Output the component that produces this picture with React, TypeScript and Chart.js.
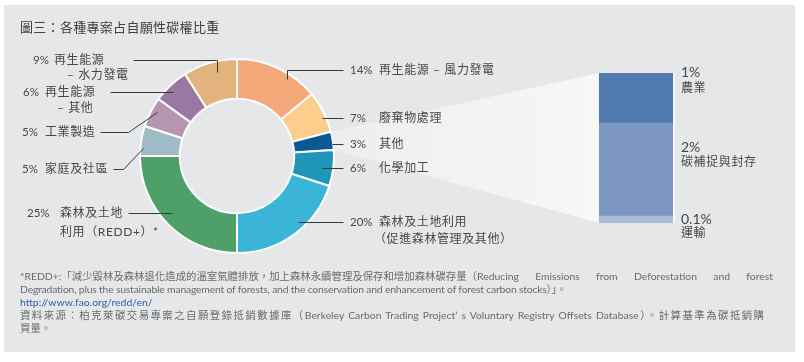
import React, { useEffect, useRef } from "react";
import { Chart, registerables } from "chart.js";

Chart.register(...registerables);

// ---------- data ----------
const titleText = "圖三：各種專案占自願性碳權比重";

const sliceNames: string[][] = [
  ["再生能源 – 風力發電"],
  ["廢棄物處理"],
  ["其他"],
  ["化學加工"],
  ["森林及土地利用", "（促進森林管理及其他）"],
  ["森林及土地", "利用（REDD+）*"],
  ["家庭及社區"],
  ["工業製造"],
  ["再生能源", "– 其他"],
  ["再生能源", "– 水力發電"],
];
const sliceValues = [14, 7, 3, 6, 20, 25, 5, 5, 6, 9];
const sliceColors = [
  "#f5a97b",
  "#fdcd8c",
  "#0c5896",
  "#1f95b9",
  "#3bb5d7",
  "#4f9f69",
  "#a0bac6",
  "#b696ae",
  "#9b78a3",
  "#e3b37e",
];
const detailSliceIndex = 2; // 其他 3%

// breakdown of "其他" (bottom to top)
const breakdownNames = ["運輸", "碳補捉與封存", "農業"];
const breakdownValues = [0.14, 1.86, 1.0];
const breakdownTexts = ["0.1%", "2%", "1%"];
const breakdownColors = ["#a8bad6", "#7c98c1", "#5079ad"];

const footLine1Words = [
  "*REDD+:「減少毀林及森林退化造成的溫室氣體排放，加上森林永續管理及保存和增加森林碳存量（Reducing",
  "Emissions",
  "from",
  "Deforestation",
  "and",
  "forest",
];
const footLine2 =
  "Degradation, plus the sustainable management of forests, and the conservation and enhancement of forest carbon stocks）」。";
const footUrl = "http://www.fao.org/redd/en/";
const footLine4 =
  "資料來源：柏克萊碳交易專案之自願登錄抵銷數據庫（Berkeley Carbon Trading Project’ s Voluntary Registry Offsets Database）。計算基準為碳抵銷購";
const footLine5 = "買量。";

// ---------- layout (positions only) ----------
const W = 804;
const H = 362;
const donutPadding = { left: 139, right: 469, top: 58, bottom: 108 };
const barPadding = { left: 599, right: 131, top: 73, bottom: 139 };

// leader line: start inside slice (angle fraction, radius fraction), then route
type Leader = { a: number; r: number; route: number[][] };
const leaders: Leader[] = [
  { a: 0.655, r: 0.946, route: [[-1, 70], [343, 70]] }, // -1 => keep x of start
  { a: 0.61, r: 0.96, route: [[343, -1]] }, // -1 => keep y of start
  { a: 0.68, r: 0.99, route: [[343, -1]] },
  { a: 0.54, r: 0.885, route: [[343, -1]] },
  { a: 0.41, r: 0.927, route: [[343, -1]] },
  { a: 0.54, r: 0.89, route: [[128, -1]] },
  { a: 0.27, r: 0.97, route: [[123, 169], [113, 169]] },
  { a: 0.6, r: 0.94, route: [[128, 132], [100, 132]] },
  { a: 0.42, r: 0.93, route: [[110, -1]] },
  { a: 0.59, r: 0.89, route: [[-1, 60], [133, 60]] },
];

type LabelPos = { px: number; nx: number; y: number; x2?: number; y2?: number };
const labelPos: LabelPos[] = [
  { px: 350, nx: 379, y: 70 },
  { px: 350, nx: 379, y: 118 },
  { px: 350, nx: 379, y: 144 },
  { px: 350, nx: 379, y: 168 },
  { px: 350, nx: 379, y: 222, x2: 374, y2: 239 },
  { px: 27, nx: 60, y: 213, x2: 60, y2: 232 },
  { px: 22, nx: 45, y: 169 },
  { px: 22, nx: 45, y: 132 },
  { px: 23, nx: 45, y: 92, x2: 57, y2: 108 },
  { px: 33, nx: 54, y: 60, x2: 67, y2: 75 },
];
const breakdownLabelPos = [
  { x: 681, y: 219, y2: 233 },
  { x: 681, y: 147, y2: 162 },
  { x: 681, y: 72, y2: 88 },
];

const FONT = "Lato, 'Noto Sans CJK TC', sans-serif";
const TEXT_COLOR = "#474747";

const txt = (x: number, cy: number, size = 12): React.CSSProperties => ({
  position: "absolute",
  left: x,
  top: cy - 8,
  lineHeight: "16px",
  fontSize: size,
  whiteSpace: "nowrap",
  fontFamily: FONT,
  color: TEXT_COLOR,
  letterSpacing: "0.6px",
});

export default function App() {
  const donutRef = useRef<HTMLCanvasElement>(null);
  const barRef = useRef<HTMLCanvasElement>(null);

  useEffect(() => {
    document.body.style.margin = "0";
    const donut = new Chart(donutRef.current!, {
      type: "doughnut",
      data: {
        labels: sliceNames.map((n) => n.join("")),
        datasets: [
          {
            data: sliceValues,
            backgroundColor: sliceColors,
            borderColor: "#ffffff",
            borderWidth: 2,
          },
        ],
      },
      options: {
        responsive: false,
        animation: false,
        cutout: "59%",
        layout: { padding: donutPadding },
        plugins: { legend: { display: false }, tooltip: { enabled: false } },
      },
    });

    const overlay = {
      id: "overlay",
      beforeDatasetsDraw(chart: any) {
        const ctx = chart.ctx as CanvasRenderingContext2D;
        const arc: any = donut.getDatasetMeta(0).data[detailSliceIndex];
        const p = arc.getProps(["x", "y", "startAngle", "endAngle", "outerRadius"], true);
        const bars = breakdownValues.map((_, i) => chart.getDatasetMeta(i).data[0] as any);
        const top = Math.min(...bars.map((b) => b.y));
        const bottom = Math.max(...bars.map((b) => b.base));
        const left = bars[0].x - bars[0].width / 2;
        const right = bars[0].x + bars[0].width / 2;
        const x1 = p.x + p.outerRadius * Math.cos(p.startAngle);
        const y1 = p.y + p.outerRadius * Math.sin(p.startAngle);
        const x2 = p.x + p.outerRadius * Math.cos(p.endAngle);
        const y2 = p.y + p.outerRadius * Math.sin(p.endAngle);
        const g = ctx.createLinearGradient(x1, 0, left, 0);
        g.addColorStop(0, "#eeeeee");
        g.addColorStop(1, "#f7f7f7");
        ctx.save();
        ctx.fillStyle = g;
        ctx.beginPath();
        ctx.moveTo(x1, y1);
        ctx.lineTo(left, top);
        ctx.lineTo(right + 2, top);
        ctx.lineTo(right + 2, bottom);
        ctx.lineTo(left, bottom);
        ctx.lineTo(x2, y2);
        ctx.closePath();
        ctx.fill();
        ctx.restore();
      },
      afterDatasetsDraw(chart: any) {
        const ctx = chart.ctx as CanvasRenderingContext2D;
        const meta = donut.getDatasetMeta(0);
        ctx.save();
        ctx.strokeStyle = "#3a3a3a";
        ctx.lineWidth = 1;
        leaders.forEach((ld, i) => {
          const arc: any = meta.data[i];
          const p = arc.getProps(["x", "y", "startAngle", "endAngle", "outerRadius"], true);
          const ang = p.startAngle + ld.a * (p.endAngle - p.startAngle);
          const sx = p.x + p.outerRadius * ld.r * Math.cos(ang);
          const sy = p.y + p.outerRadius * ld.r * Math.sin(ang);
          let cx = Math.round(sx);
          let cy = Math.round(sy);
          ctx.beginPath();
          ctx.moveTo(cx + 0.5, cy + 0.5);
          ld.route.forEach(([rx, ry]) => {
            cx = rx < 0 ? cx : rx;
            cy = ry < 0 ? cy : ry;
            ctx.lineTo(cx + 0.5, cy + 0.5);
          });
          ctx.stroke();
        });
        ctx.restore();
      },
    };

    const total = breakdownValues.reduce((a, b) => a + b, 0);
    const bar = new Chart(barRef.current!, {
      type: "bar",
      data: {
        labels: ["其他"],
        datasets: breakdownValues.map((v, i) => ({
          label: breakdownNames[i],
          data: [v],
          backgroundColor: breakdownColors[i],
          borderWidth: 0,
          barPercentage: 1,
          categoryPercentage: 1,
        })),
      },
      options: {
        responsive: false,
        animation: false,
        layout: { padding: barPadding },
        scales: {
          x: { stacked: true, display: false },
          y: { stacked: true, display: false, min: 0, max: total },
        },
        plugins: { legend: { display: false }, tooltip: { enabled: false } },
      },
      plugins: [overlay],
    });

    return () => {
      bar.destroy();
      donut.destroy();
    };
  }, []);

  return (
    <div
      style={{
        position: "relative",
        width: W,
        height: H,
        background: "#ffffff",
        overflow: "hidden",
        fontFamily: FONT,
      }}
    >
      <div
        style={{
          position: "absolute",
          left: 4,
          top: 5,
          width: 791,
          height: 347,
          background: "#e6e7e8",
        }}
      />
      <canvas
        ref={donutRef}
        width={W}
        height={H}
        style={{ position: "absolute", left: 0, top: 0, width: W, height: H }}
      />
      <canvas
        ref={barRef}
        width={W}
        height={H}
        style={{ position: "absolute", left: 0, top: 0, width: W, height: H }}
      />
      <div style={{ ...txt(20, 27, 13), color: "#404040", letterSpacing: "0.3px" }}>{titleText}</div>

      {labelPos.map((lp, i) => (
        <React.Fragment key={i}>
          <div style={{ ...txt(lp.px, lp.y, 11.5), letterSpacing: "0px" }}>{sliceValues[i] + "%"}</div>
          <div style={txt(lp.nx, lp.y)}>{sliceNames[i][0]}</div>
          {sliceNames[i][1] && lp.x2 !== undefined && lp.y2 !== undefined ? (
            <div style={txt(lp.x2, lp.y2)}>{sliceNames[i][1]}</div>
          ) : null}
        </React.Fragment>
      ))}

      {breakdownLabelPos.map((bp, i) => (
        <React.Fragment key={"b" + i}>
          <div style={{ ...txt(bp.x, bp.y, 14), letterSpacing: "0px" }}>{breakdownTexts[i]}</div>
          <div style={txt(bp.x, bp.y2)}>{breakdownNames[i]}</div>
        </React.Fragment>
      ))}

      <div
        style={{
          position: "absolute",
          left: 20,
          top: 270,
          width: 753,
          fontSize: 10.4,
          lineHeight: "13px",
          color: "#6a6a6a",
          fontFamily: FONT,
          whiteSpace: "nowrap",
        }}
      >
        <div style={{ display: "flex", justifyContent: "space-between" }}>
          {footLine1Words.map((w, i) => (
            <span key={i}>{w}</span>
          ))}
        </div>
        <div style={{ letterSpacing: "-0.2px" }}>{footLine2}</div>
        <div style={{ color: "#2c5ea8" }}>{footUrl}</div>
        <div style={{ width: 744, textAlign: "justify", textAlignLast: "justify" as any }}>{footLine4}</div>
        <div>{footLine5}</div>
      </div>
    </div>
  );
}
